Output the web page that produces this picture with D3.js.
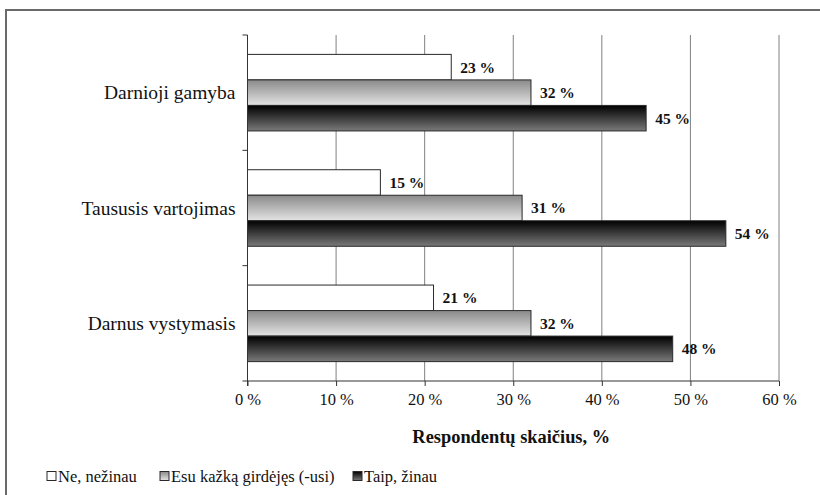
<!DOCTYPE html>
<html>
<head>
<meta charset="utf-8">
<script src="https://cdn.jsdelivr.net/npm/d3@7"></script>
<style>
  html, body { margin: 0; padding: 0; background: #fff; }
  svg { display: block; }
</style>
</head>
<body>
<svg id="chart" width="820" height="495"></svg>
<script>
// Survey awareness of sustainability terms
const categories = ["Darnioji gamyba", "Taususis vartojimas", "Darnus vystymasis"];
const seriesNames = ["Ne, nežinau", "Esu kažką girdėjęs (-usi)", "Taip, žinau"];
const neValues = [23, 15, 21];
const girdejesValues = [32, 31, 32];
const taipValues = [45, 54, 48];
const xTicks = [0, 10, 20, 30, 40, 50, 60];
const xTitle = "Respondentų skaičius, %";

const seriesValues = [neValues, girdejesValues, taipValues];
const FONT = '"Liberation Serif", "Times New Roman", serif';

const svg = d3.select("#chart");
const defs = svg.append("defs");

// vertical gradients for the gray and black series
function gradient(id, c0, c1) {
  const g = defs.append("linearGradient").attr("id", id)
    .attr("x1", 0).attr("y1", 0).attr("x2", 0).attr("y2", 1);
  g.append("stop").attr("offset", "0%").attr("stop-color", c0);
  g.append("stop").attr("offset", "100%").attr("stop-color", c1);
}
gradient("gGray", "#8a8a8a", "#e4e4e4");
gradient("gBlack", "#000000", "#7a7a7a");
const fills = ["#ffffff", "url(#gGray)", "url(#gBlack)"];

// outer frame
svg.append("path")
  .attr("d", "M6,500 L6,10 L830,10")
  .attr("fill", "none").attr("stroke", "#6a6a6a").attr("stroke-width", 2);

const plotLeft = 247.5, plotRight = 779, plotTop = 35, plotBottom = 381;

const x = d3.scaleLinear().domain([0, 60]).range([plotLeft, plotRight]);
const y = d3.scaleBand().domain(categories).range([plotTop, plotBottom]).padding(0);
const yInner = d3.scaleBand().domain(seriesNames).range([0, y.bandwidth()])
  .paddingInner(0).paddingOuter(0.76);

// gridlines
svg.append("g").selectAll("line").data(xTicks.filter(d => d > 0)).join("line")
  .attr("x1", d => x(d)).attr("x2", d => x(d))
  .attr("y1", plotTop).attr("y2", plotBottom)
  .attr("stroke", "#808080").attr("stroke-width", 1);

// bars with value labels
const groups = svg.append("g").selectAll("g").data(categories).join("g")
  .attr("transform", c => `translate(0,${y(c)})`);

groups.each(function (c, ci) {
  const g = d3.select(this);
  seriesNames.forEach((s, si) => {
    const v = seriesValues[si][ci];
    g.append("rect")
      .attr("x", x(0)).attr("y", yInner(s))
      .attr("width", x(v) - x(0)).attr("height", yInner.bandwidth())
      .attr("fill", fills[si]).attr("stroke", "#2a2a2a").attr("stroke-width", 1);
    g.append("text")
      .attr("x", x(v) + 9).attr("y", yInner(s) + yInner.bandwidth() / 2)
      .attr("dy", "0.35em")
      .style("font-family", FONT).style("font-size", "15.5px").style("font-weight", "bold")
      .style("fill", "#111")
      .text(`${v} %`);
  });
});

// x axis
const xAxis = d3.axisBottom(x).tickValues(xTicks).tickSize(5).tickSizeOuter(0)
  .tickFormat(d => `${d} %`);
const gx = svg.append("g").attr("transform", `translate(0,${plotBottom})`).call(xAxis);
gx.select(".domain").attr("stroke", "#333").attr("d", `M${plotLeft - 5},0H${plotRight}`);
gx.selectAll(".tick line").attr("stroke", "#333");
gx.selectAll(".tick text")
  .style("font-family", FONT).style("font-size", "16.5px").style("fill", "#111")
  .attr("dy", "0.95em");

// y axis with category-boundary ticks
const gy = svg.append("g");
gy.append("line").attr("x1", plotLeft).attr("x2", plotLeft)
  .attr("y1", plotTop).attr("y2", plotBottom + 5).attr("stroke", "#333");
const bounds = categories.map(c => y(c));
gy.selectAll("line.t").data(bounds).join("line").attr("class", "t")
  .attr("x1", plotLeft - 5).attr("x2", plotLeft).attr("y1", d => d).attr("y2", d => d)
  .attr("stroke", "#333");
gy.selectAll("text").data(categories).join("text")
  .attr("x", plotLeft - 12).attr("y", c => y(c) + y.bandwidth() / 2)
  .attr("dy", "0.35em").attr("text-anchor", "end")
  .style("font-family", FONT).style("font-size", "19.5px").style("fill", "#111")
  .text(c => c);

// axis title
svg.append("text")
  .attr("x", (plotLeft + plotRight) / 2 - 2).attr("y", 437).attr("dy", "0.35em")
  .attr("text-anchor", "middle")
  .style("font-family", FONT).style("font-size", "18.4px").style("font-weight", "bold")
  .style("fill", "#111")
  .text(xTitle);

// legend
const legendX = [47, 160, 353];
const lg = svg.append("g").selectAll("g").data(seriesNames).join("g")
  .attr("transform", (d, i) => `translate(${legendX[i]},476)`);
lg.append("rect").attr("x", 0).attr("y", -4.5).attr("width", 9).attr("height", 9)
  .attr("fill", (d, i) => fills[i]).attr("stroke", "#2a2a2a");
lg.append("text").attr("x", 11).attr("y", 0).attr("dy", "0.35em")
  .style("font-family", FONT).style("font-size", "16.5px").style("fill", "#111")
  .text(d => d);
</script>
</body>
</html>
